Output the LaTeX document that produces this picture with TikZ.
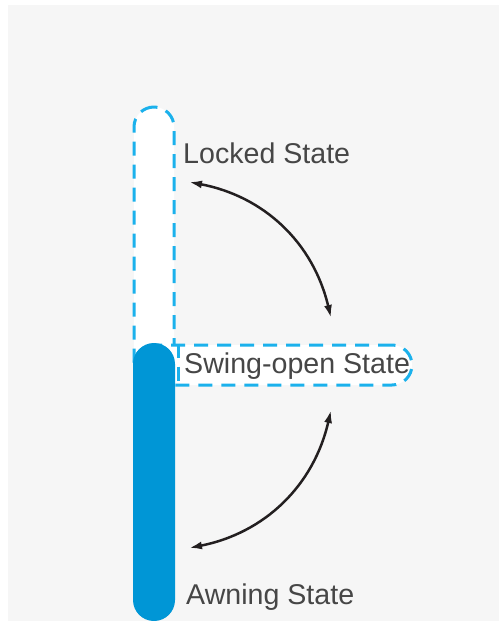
\documentclass[tikz,border=0pt]{standalone}
\usepackage{fontspec}
\setmainfont{Liberation Sans}
\usetikzlibrary{positioning,arrows.meta}

\definecolor{awningblue}{RGB}{0,150,214}
\definecolor{ghostblue}{RGB}{27,177,236}
\definecolor{labelgrey}{RGB}{70,70,70}
\definecolor{arcgrey}{RGB}{35,31,32}
\definecolor{bggrey}{RGB}{246,246,246}

\begin{document}
\begin{tikzpicture}[
    x=1pt, y=-1pt,
    ghost/.style={draw=ghostblue, line width=3pt, dash pattern=on 14pt off 9pt, fill=white, rounded corners=20pt, inner sep=0pt},
    sash/.style={fill=awningblue, rounded corners=21pt, inner sep=0pt, minimum width=42pt},
    statelabel/.style={anchor=base west, inner sep=0pt, text=labelgrey, font=\fontsize{28.6}{32}\selectfont},
    swing/.style={draw=arcgrey, line width=2.5pt, {Latex[length=13pt,width=8pt]}-{Latex[length=13pt,width=8pt]}}
  ]
    % Page
    \useasboundingbox (0,0) rectangle (499,621);
    \fill[bggrey] (8,5) rectangle (499,621);

    % Sash positions
    \node[ghost, minimum width=40pt, minimum height=278pt] at (154,246) (locked) {};
    \node[ghost, minimum width=278pt, minimum height=40pt] at (273,365) (swingopen) {};
    \draw[ghostblue, line width=3pt, dash pattern=on 14pt off 9pt] ([xshift=3pt]locked.east |- swingopen.north) -- ([xshift=3pt]locked.south east);
    \node[sash, minimum height=278pt] at (154,482) (awning) {};

    % State labels
    \node[statelabel] at (183,163) (lockedlbl) {Locked State};
    \node[statelabel] at (184,373) (swinglbl) {Swing-open State};
    \node[statelabel] at (186,604) (awninglbl) {Awning State};

    % Swing arrows
    \coordinate (upA) at (189,182);
    \coordinate (upB) at (331,318);
    \coordinate (lowA) at (331,410);
    \coordinate (lowB) at (189,548);
    \draw[swing] (upA) to[bend left=33] (upB);
    \draw[swing] (lowA) to[bend left=33] (lowB);
  \end{tikzpicture}
\end{document}
